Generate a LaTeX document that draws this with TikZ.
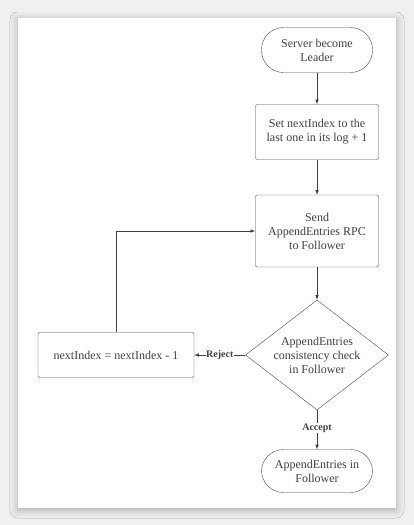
\documentclass[tikz,border=0pt]{standalone}
\usepackage{fontspec}
\setmainfont{Liberation Serif}
\usetikzlibrary{shapes.geometric,shadows.blur}

\tikzset{
    terminal/.style={draw=black!70, rounded corners=22pt, minimum width=111pt, minimum height=45pt, align=center, fill=white},
    process/.style={draw=black!70, rounded corners=2pt, minimum width=123pt, align=center, fill=white},
    decision/.style={draw=black!70, diamond, aspect=1.3, inner sep=0pt, minimum width=143pt, minimum height=110pt, align=center, fill=white},
    flow/.style={->, >=latex, draw=black!75, semithick},
    tag/.style={font=\fontsize{10}{11}\selectfont\bfseries, fill=white, inner sep=0.5pt}
}

\begin{document}
\begin{tikzpicture}[x=1pt, y=-1pt, font=\fontsize{12}{14}\selectfont, text=black!75]
                \fill[black!6] (0,0) rectangle (414,525);
                \fill[white, blur shadow={shadow xshift=0pt, shadow yshift=-2pt, shadow blur radius=8pt, shadow opacity=30}] (18,18) rectangle (396,508);
                \useasboundingbox (0,0) rectangle (414,525);

                \node[terminal] (Leader) at (317, 50) {Server become\\Leader};
                \node[process, minimum height=55pt] (SetIdx) at (317, 132) {Set nextIndex to the\\last one in its log + 1};
                \node[process, minimum height=72pt] (Send) at (317, 231) {Send\\AppendEntries RPC\\to Follower};
                \node[decision] (Check) at (317, 355) {AppendEntries\\consistency check\\in Follower};
                \node[process, minimum width=156pt, minimum height=45pt] (Dec) at (116, 355) {nextIndex = nextIndex - 1};
                \node[terminal, minimum height=43pt] (Append) at (317, 471) {AppendEntries in\\Follower};

                \draw[flow] (Leader) -- (SetIdx);
                \draw[flow] (SetIdx) -- (Send);
                \draw[flow] (Send) -- (Check);
                \draw[flow] (Check) -- (Dec) node[tag, pos=0.5]{Reject};
                \draw[flow] (Check) -- (Append) node[tag, pos=0.45]{Accept};
                \draw[flow] (Dec.north) |- (Send.west);
            \end{tikzpicture}
\end{document}
